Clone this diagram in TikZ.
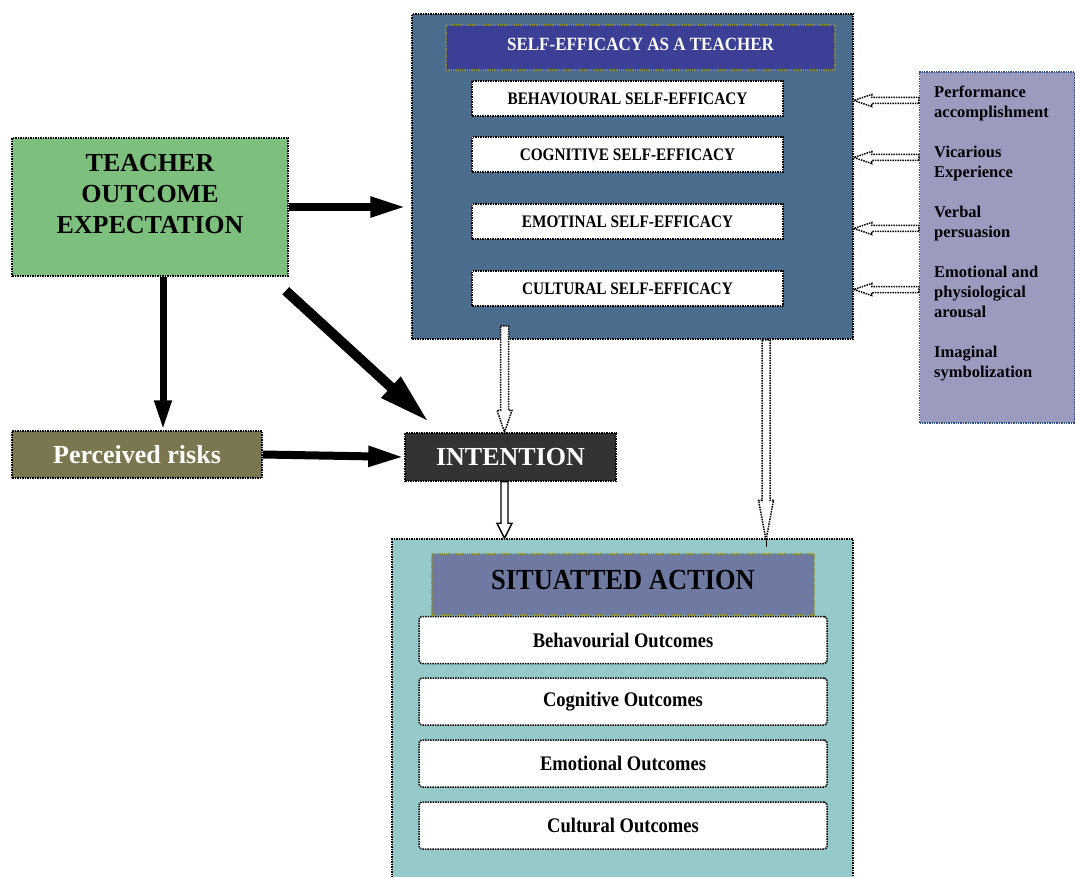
\documentclass[tikz,border=0pt]{standalone}
\usepackage{fontspec}
\usepackage{graphicx}
\setmainfont{Liberation Serif}
\usetikzlibrary{arrows.meta,calc}
\definecolor{seblue}{HTML}{4A6D8E}
\definecolor{setitle}{HTML}{3B3F96}
\definecolor{teachgreen}{HTML}{7DC07E}
\definecolor{riskolive}{HTML}{7A7750}
\definecolor{intgray}{HTML}{333333}
\definecolor{sateal}{HTML}{96CACA}
\definecolor{satitle}{HTML}{6F7AA3}
\definecolor{lav}{HTML}{9B9BC0}
\definecolor{lavborder}{HTML}{2F4F8F}
\definecolor{titleborder}{HTML}{8A8A30}
\newcommand\myfs[2]{\fontsize{#1}{#2}\selectfont}
\newcommand\vst[2]{\scalebox{1}[#1]{#2}}
% block arrow: [style]{from}{to}{half shaft}{half head}{head length}
\newcommand\blockarrow[6][]{%
  \coordinate (ba-n) at ($(#3)!#6!(#2)$);
  \draw[#1] ($(#2)!#4!90:(#3)$) -- ($(ba-n)!#4!90:(#3)$) -- ($(ba-n)!#5!90:(#3)$) -- (#3)
    -- ($(ba-n)!#5!-90:(#3)$) -- ($(ba-n)!#4!-90:(#3)$) -- ($(#2)!#4!-90:(#3)$) -- cycle;}
\begin{document}
\begin{tikzpicture}[x=1pt,y=-1pt,
  dbox/.style={draw=black, densely dotted, line width=1.5pt, inner sep=0pt, align=center, font=\bfseries},
  tbox/.style={draw=titleborder, densely dotted, line width=1.3pt, inner sep=0pt, align=center, font=\bfseries},
  plain/.style={inner sep=0pt, align=center},
  subbox/.style={dbox, fill=white, minimum width=311pt, minimum height=35pt, font=\bfseries\myfs{15.3}{18}},
  outbox/.style={dbox, fill=white, rounded corners=3pt, minimum width=408pt, minimum height=47pt, font=\bfseries\myfs{18.5}{22}},
  bigarrow/.style={line width=8pt, -{Triangle[length=36pt,width=19pt]}},
  hollowdot/.style={draw=black, fill=white, densely dotted, line width=1.5pt, line join=miter},
  hollowsolid/.style={draw=black, fill=white, line width=1.4pt, line join=miter}
]
\useasboundingbox (0,0) rectangle (1075,877);
\clip (0,0) rectangle (1075,877);

% Self-efficacy block
\node[dbox, fill=seblue, minimum width=441pt, minimum height=325pt] (se) at (632.5,176.5) {};
\node[tbox, fill=setitle, minimum width=389pt, minimum height=45pt] (setit) at (640.5,47.5) {};
\node[plain, text=white, font=\bfseries\myfs{17}{20}] (setittext) at (640.5,44) {\vst{1.1}{SELF-EFFICACY AS A TEACHER}};
\node[subbox] (beh) at (627.5,98.5) {\vst{1.15}{BEHAVIOURAL SELF-EFFICACY}};
\node[subbox] (cog) at (627.5,154.5) {\vst{1.15}{COGNITIVE SELF-EFFICACY}};
\node[subbox] (emo) at (627.5,221.5) {\vst{1.15}{EMOTINAL SELF-EFFICACY}};
\node[subbox] (cul) at (627.5,288.5) {\vst{1.15}{CULTURAL SELF-EFFICACY}};

% Sources box
\node[draw=lavborder, densely dotted, line width=1.4pt, fill=lav, minimum width=155pt, minimum height=351pt, inner sep=0pt] (src) at (997,247.5) {};
\node[anchor=north west, inner sep=0pt, align=left, font=\bfseries\myfs{16.5}{20}] (srctext) at (934,86)
  {Performance\\accomplishment\\[20pt]Vicarious\\Experience\\[20pt]Verbal\\persuasion\\[20pt]Emotional and\\physiological\\arousal\\[20pt]Imaginal\\symbolization};

% Left nodes
\node[dbox, fill=teachgreen, minimum width=276pt, minimum height=138pt] (teach) at (150,207) {};
\node[plain, font=\bfseries\myfs{26}{31}] (teachtext) at (150,194) {TEACHER\\OUTCOME\\EXPECTATION};
\node[dbox, fill=riskolive, text=white, minimum width=250pt, minimum height=47pt, font=\bfseries\myfs{26}{30}] (risk) at (137,454.5) {Perceived risks};
\node[dbox, fill=intgray, text=white, minimum width=211pt, minimum height=48pt, font=\bfseries\myfs{26}{30}] (int) at (510.5,457) {INTENTION};

% Situated action block
\node[dbox, fill=sateal, minimum width=461pt, minimum height=361pt] (sa) at (622.5,719.5) {};
\node[tbox, fill=satitle, minimum width=382pt, minimum height=61pt] (satit) at (623,584.5) {};
\node[plain, font=\bfseries\myfs{26.5}{30}] (satittext) at (623,580) {\vst{1.1}{SITUATTED ACTION}};
\node[outbox] (o1) at (623,640) {\vst{1.12}{Behavourial Outcomes}};
\node[outbox] (o2) at (623,701.5) {\vst{1.12}{Cognitive Outcomes}};
\node[outbox] (o3) at (623,763.5) {\vst{1.12}{Emotional Outcomes}};
\node[outbox] (o4) at (623,825.5) {\vst{1.12}{Cultural Outcomes}};

% Black arrows
\coordinate (t2r-s) at ($(teach.south)+(13,0)$);
\coordinate (t2r-e) at (t2r-s |- risk.north);
\coordinate (t2i-s) at ($(teach.south east)+(-3,14)$);
\coordinate (t2i-e) at ($(int.north west)+(25,-10)$);
\draw[bigarrow, shorten >=5pt] (teach.east) -- (se.west |- teach.east);
\draw[line width=7pt, -{Triangle[length=30pt,width=16pt]}] (t2r-s) -- (t2r-e);
\draw[line width=10pt, -{Triangle[length=52pt,width=26pt]}] (t2i-s) -- (t2i-e);
\draw[bigarrow] (risk.east) -- (int.west);

% Hollow arrows
\coordinate (s2i-s) at ($(se.south)+(-128,-14)$);
\coordinate (s2i-e) at ($(int.north)+(-6,0)$);
\blockarrow[hollowdot]{s2i-s}{s2i-e}{4pt}{7.5pt}{22pt}
\coordinate (i2a-s) at ($(int.south)+(-6,0)$);
\coordinate (i2a-e) at (i2a-s |- sa.north);
\blockarrow[hollowsolid]{i2a-s}{i2a-e}{3.5pt}{7.5pt}{15pt}
\coordinate (s2a-s) at ($(se.south)+(133.5,0)$);
\coordinate (s2a-e) at ($(sa.north)+(143.5,2)$);
\blockarrow[hollowdot]{s2a-s}{s2a-e}{4pt}{7.5pt}{40pt}
\draw[line width=1pt] (s2a-e) -- ($(s2a-e)+(0,7)$);
\foreach \tgt/\dy [count=\k] in {beh/2,cog/3,emo/7,cul/1}{
  \coordinate (r\k-s) at ($(src.west |- \tgt.east)+(0,\dy)$);
  \coordinate (r\k-e) at ($(se.east |- \tgt.east)+(0,\dy)$);
  \blockarrow[hollowdot]{r\k-s}{r\k-e}{3pt}{6pt}{18pt}
}
\end{tikzpicture}
\end{document}
